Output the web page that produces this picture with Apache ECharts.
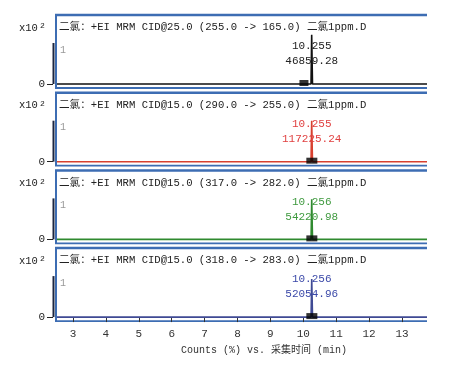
<!DOCTYPE html>
<html><head><meta charset="utf-8">
<script src="https://cdn.jsdelivr.net/npm/echarts@6/dist/echarts.min.js"></script>
<style>html,body{margin:0;padding:0;background:#fff}#c{width:469px;height:366px}</style>
</head><body><div id="c"></div>
<script>
// ---- data ----
const panelTitles = [
  '二氯：+EI MRM CID@25.0 (255.0 -> 165.0) 二氯1ppm.D',
  '二氯：+EI MRM CID@15.0 (290.0 -> 255.0) 二氯1ppm.D',
  '二氯：+EI MRM CID@15.0 (317.0 -> 282.0) 二氯1ppm.D',
  '二氯：+EI MRM CID@15.0 (318.0 -> 283.0) 二氯1ppm.D'
];
const retentionTimes = ['10.255', '10.255', '10.256', '10.256'];
const peakAreas = ['46859.28', '117225.24', '54220.98', '52054.96'];
const traceX1 = [2.514, 10.235, 10.255, 10.28, 13.76];
const traceY1 = [0, 0, 1.2, 0, 0];
const traceX2 = [2.514, 10.235, 10.255, 10.28, 13.76];
const traceY2 = [0, 0, 1.0, 0, 0];
const traceX3 = [2.514, 10.236, 10.256, 10.281, 13.76];
const traceY3 = [0, 0, 0.98, 0, 0];
const traceX4 = [2.514, 10.236, 10.256, 10.281, 13.76];
const traceY4 = [0, 0, 0.93, 0, 0];
const markerX = [10.02, 10.26, 10.26, 10.26];
const xTickValues = [3, 4, 5, 6, 7, 8, 9, 10, 11, 12, 13];
const yLabelZero = [0];
const yLabelOne = [1];
const xAxisTitle = 'Counts (%) vs. 采集时间 (min)';
const scaleLabel = 'x10{s|2}';

// ---- layout / style ----
const traceX = [traceX1, traceX2, traceX3, traceX4];
const traceY = [traceY1, traceY2, traceY3, traceY4];
const X_MIN = 2.514, X_MAX = 13.76, Y_MIN = -0.049, Y_MAX = 1.634;
const FRAME_TOP = [15, 92.7, 170.4, 248.1];
const lineColors = ['#111111', '#d8402f', '#2f8a2f', '#3f4a94'];
const labelColors = ['#222222', '#e04040', '#3f9a3f', '#3a48a8'];
const MONO = '"Liberation Mono","Noto Sans CJK SC",monospace';
const FRAME = '#3d6db3';
const GL = 57, GW = 370;

const chart = echarts.init(document.getElementById('c'), null, {renderer: 'canvas'});

const grids = [], xAxes = [], yAxes = [], series = [], titles = [];
for (let i = 0; i < 4; i++) {
  const top = FRAME_TOP[i];
  grids.push({left: GL, width: GW, top: top + 2, height: 69, containLabel: false});
  const last = i === 3;
  xAxes.push({
    type: 'value', gridIndex: i, min: X_MIN, max: X_MAX, show: last,
    offset: 2,
    axisLine: {show: false}, splitLine: {show: false},
    axisTick: {show: true, length: 5, customValues: xTickValues, lineStyle: {color: '#333', width: 1}},
    axisLabel: {show: true, customValues: xTickValues, fontSize: 11, color: '#333', margin: 7, fontFamily: MONO},
    name: last ? xAxisTitle : '', nameLocation: 'middle', nameGap: 24,
    nameTextStyle: {fontSize: 10, color: '#333', fontFamily: MONO, padding: [0, 0, 0, 44]}
  });
  yAxes.push({
    type: 'value', gridIndex: i, min: Y_MIN, max: Y_MAX, offset: 4, position: 'left',
    axisLine: {show: false}, splitLine: {show: false},
    axisTick: {show: true, length: 6, customValues: yLabelZero, lineStyle: {color: '#222'}},
    axisLabel: {show: true, customValues: yLabelZero, fontSize: 11, color: '#222', margin: 8, fontFamily: MONO}
  });
  yAxes.push({
    type: 'value', gridIndex: i, min: Y_MIN, max: Y_MAX, position: 'left',
    axisLine: {show: false}, splitLine: {show: false}, axisTick: {show: false},
    axisLabel: {show: true, inside: true, customValues: yLabelOne, fontSize: 10, color: '#999',
      margin: 3, verticalAlign: 'top', padding: [2, 0, 0, 0], fontFamily: MONO}
  });
  const rt = parseFloat(retentionTimes[i]);
  series.push({
    type: 'line', xAxisIndex: i, yAxisIndex: 2 * i,
    data: traceX[i].map((x, k) => [x, traceY[i][k]]),
    symbol: 'none', lineStyle: {color: lineColors[i], width: 1.6}, z: 3,
    markPoint: {
      symbol: 'rect', symbolSize: 0, silent: true, animation: false,
      data: [{coord: [rt, 0]}],
      label: {show: true, position: 'inside', offset: [0, -30],
        formatter: retentionTimes[i] + '\n' + peakAreas[i],
        color: labelColors[i], fontSize: 11, lineHeight: 15, fontFamily: MONO}
    }
  });
  series.push({
    type: 'scatter', xAxisIndex: i, yAxisIndex: 2 * i, clip: false,
    data: [[markerX[i], 0]], symbol: 'rect', symbolSize: i === 0 ? [9, 6] : [11, 6],
    symbolOffset: [0, -1], itemStyle: {color: '#000'}, z: 4
  });
  titles.push({text: panelTitles[i], left: 59, top: top + 7, padding: 0,
    textStyle: {fontSize: 10.6, fontWeight: 'normal', color: '#222', fontFamily: MONO}});
  titles.push({text: scaleLabel, left: 19, top: top + 7, padding: 0,
    textStyle: {fontSize: 10.5, fontWeight: 'normal', color: '#222', fontFamily: MONO,
      rich: {s: {fontSize: 8, verticalAlign: 'top', padding: [0, 0, 4, 2], color: '#222', fontFamily: MONO}}}});
}

chart.setOption({
  animation: false,
  backgroundColor: '#fff',
  title: titles,
  grid: grids, xAxis: xAxes, yAxis: yAxes, series: series
});

// frames and y-range bars (positions from the library's scales)
const graphics = [];
for (let i = 0; i < 4; i++) {
  const top = FRAME_TOP[i];
  const p0 = chart.convertToPixel({seriesIndex: 2 * i}, [X_MIN, 0]);
  const p1 = chart.convertToPixel({seriesIndex: 2 * i}, [X_MIN, 1]);
  const bottom = p0[1] + 4;
  graphics.push({type: 'line', shape: {x1: 55, y1: top, x2: 427, y2: top}, style: {stroke: FRAME, lineWidth: 2.5}, silent: true});
  graphics.push({type: 'line', shape: {x1: 56, y1: top, x2: 56, y2: bottom}, style: {stroke: FRAME, lineWidth: 2}, silent: true});
  graphics.push({type: 'line', shape: {x1: 55, y1: bottom, x2: 427, y2: bottom}, style: {stroke: FRAME, lineWidth: 1.8}, silent: true});
  graphics.push({type: 'line', shape: {x1: 53.5, y1: p1[1], x2: 53.5, y2: p0[1]}, style: {stroke: '#1c2640', lineWidth: 2}, silent: true});
}
chart.setOption({graphic: graphics});
</script></body></html>
